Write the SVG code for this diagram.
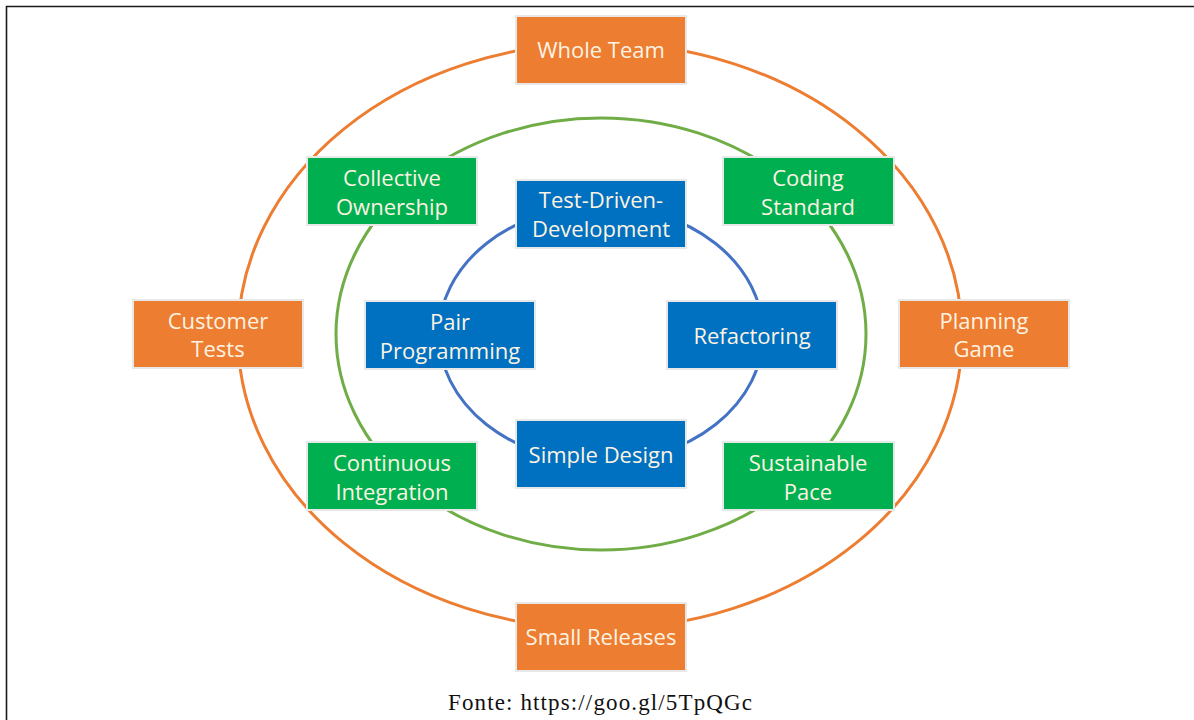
<svg xmlns="http://www.w3.org/2000/svg" width="1194" height="720" viewBox="0 0 1194 720">
<style>
.ring{fill:none;stroke-width:3}
.box{stroke:#e8e8e8;stroke-width:2}
.o{fill:#ED7D31}
.g{fill:#00B050}
.b{fill:#0070C0}
.t{font-family:"Open Sans","Noto Sans",sans-serif;font-size:22px;fill:#fdf3e3;text-anchor:middle}
.cap{font-family:"Liberation Serif","DejaVu Serif",serif;font-size:23px;fill:#111;text-anchor:middle}
</style>
<rect width="1194" height="720" fill="#fff"/>
<path d="M6.5 720 V6.5 H1194" fill="none" stroke="#1a1a1a" stroke-width="1.6"/>
<g id="connectors">
<ellipse class="ring" cx="600" cy="336" rx="362" ry="293" stroke="#ED7D31"/>
<ellipse class="ring" cx="601" cy="334" rx="265" ry="216" stroke="#70AD47"/>
<ellipse class="ring" cx="601" cy="334" rx="162" ry="128" stroke="#4472C4"/>
</g>
<g id="whole-team"><rect class="box o" x="516" y="16" width="170" height="68"/><text class="t" x="601" y="58">Whole Team</text></g>
<g id="customer-tests"><rect class="box o" x="133" y="300" width="170" height="68"/><text class="t" x="218" y="329">Customer</text><text class="t" x="218" y="357">Tests</text></g>
<g id="planning-game"><rect class="box o" x="899" y="300" width="170" height="68"/><text class="t" x="984" y="329">Planning</text><text class="t" x="984" y="357">Game</text></g>
<g id="small-releases"><rect class="box o" x="516" y="603" width="170" height="68"/><text class="t" x="601" y="645">Small Releases</text></g>
<g id="collective-ownership"><rect class="box g" x="307" y="157" width="170" height="68"/><text class="t" x="392" y="186">Collective</text><text class="t" x="392" y="215">Ownership</text></g>
<g id="coding-standard"><rect class="box g" x="723" y="157" width="171" height="68"/><text class="t" x="808" y="186">Coding</text><text class="t" x="808" y="215">Standard</text></g>
<g id="continuous-integration"><rect class="box g" x="307" y="442" width="170" height="68"/><text class="t" x="392" y="471">Continuous</text><text class="t" x="392" y="500">Integration</text></g>
<g id="sustainable-pace"><rect class="box g" x="723" y="442" width="171" height="68"/><text class="t" x="808" y="471">Sustainable</text><text class="t" x="808" y="500">Pace</text></g>
<g id="tdd"><rect class="box b" x="516" y="180" width="170" height="68"/><text class="t" x="601" y="208">Test-Driven-</text><text class="t" x="601" y="237">Development</text></g>
<g id="pair-programming"><rect class="box b" x="365" y="301" width="170" height="68"/><text class="t" x="450" y="330">Pair</text><text class="t" x="450" y="359">Programming</text></g>
<g id="refactoring"><rect class="box b" x="667" y="301" width="170" height="68"/><text class="t" x="752" y="344">Refactoring</text></g>
<g id="simple-design"><rect class="box b" x="516" y="420" width="170" height="68"/><text class="t" x="601" y="463">Simple Design</text></g>
<text class="cap" x="600" y="710" textLength="304" lengthAdjust="spacing">Fonte: https://goo.gl/5TpQGc</text>
</svg>
